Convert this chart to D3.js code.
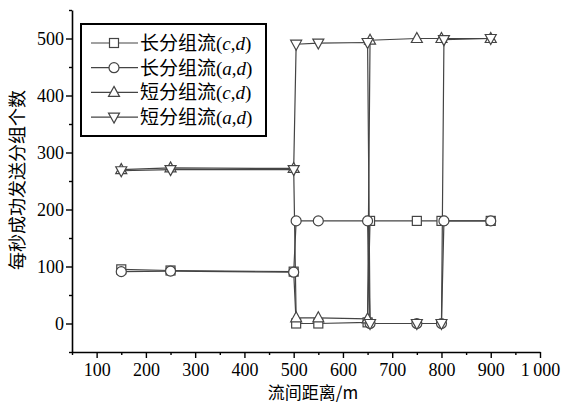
<!DOCTYPE html>
<html>
<head>
<meta charset="utf-8">
<script src="https://cdn.jsdelivr.net/npm/d3@7"></script>
<style>
  body { margin: 0; background: #fff; }
  svg { display: block; }
</style>
</head>
<body>
<div id="chart"></div>
<script>
// data
const seriesNames = ['长分组流', '长分组流', '短分组流', '短分组流'];
const seriesPairs = [['c', 'd'], ['a', 'd'], ['c', 'd'], ['a', 'd']];
const seriesSymbols = ['square', 'circle', 'up', 'down'];

const longCdX = [150, 250, 500, 505, 550, 650, 655, 750, 800, 900];
const longCdY = [95, 93, 91, 0, 0, 2, 180, 180, 180, 180];

const longAdX = [150, 250, 500, 505, 550, 650, 655, 750, 800, 805, 900];
const longAdY = [91, 92, 90, 180, 180, 180, 0, 0, 0, 180, 180];

const shortCdX = [150, 250, 500, 505, 550, 650, 655, 750, 800, 900];
const shortCdY = [270, 273, 272, 10, 10, 8, 497, 500, 500, 500];

const shortAdX = [150, 250, 500, 505, 550, 650, 655, 750, 800, 805, 900];
const shortAdY = [268, 270, 270, 490, 492, 493, 0, 0, 0, 498, 500];

const xTicks = [100, 200, 300, 400, 500, 600, 700, 800, 900, 1000];
const xMinor = [50, 150, 250, 350, 450, 550, 650, 750, 850, 950];
const yTicks = [0, 100, 200, 300, 400, 500];
const yMinor = [-50, 50, 150, 250, 350, 450, 550];

const xLabel = '流间距离/m';
const yLabel = '每秒成功发送分组个数';

const width = 566;
const height = 405;
const serif = '"Liberation Serif", "Times New Roman", serif';
const cjk = '"Noto Sans CJK SC", sans-serif';

const svg = d3.select('#chart')
  .append('svg')
  .attr('width', width)
  .attr('height', height);

const x = d3.scaleLinear().domain([50, 1000]).range([72, 540]);
const y = d3.scaleLinear().domain([-50, 550]).range([352, 10]);

const fmtX = d => d >= 1000 ? '1\u2009000' : d;

// x axis
const gx = svg.append('g').attr('transform', `translate(0, ${y(-50)})`);
gx.call(d3.axisBottom(x).tickValues(xTicks).tickSize(6).tickSizeOuter(0).tickFormat(fmtX));
gx.append('g').call(d3.axisBottom(x).tickValues(xMinor).tickSize(3).tickFormat(''))
  .select('.domain').remove();
gx.selectAll('.tick text').attr('dy', '0.85em');

// y axis
const gy = svg.append('g').attr('transform', `translate(${x(50)}, 0)`);
gy.call(d3.axisLeft(y).tickValues(yTicks).tickSize(6).tickSizeOuter(0));
gy.append('g').call(d3.axisLeft(y).tickValues(yMinor).tickSize(3).tickFormat(''))
  .select('.domain').remove();
gy.selectAll('.tick text').attr('dy', '0.35em').attr('x', -8);

svg.selectAll('.tick text')
  .attr('font-family', serif)
  .attr('font-size', 18)
  .attr('fill', '#000');
svg.selectAll('.domain').attr('stroke', '#000').attr('stroke-width', 1.6);
svg.selectAll('.tick line').attr('stroke', '#000').attr('stroke-width', 1.4);

// axis titles
svg.append('text')
  .attr('x', 313)
  .attr('y', 399)
  .attr('text-anchor', 'middle')
  .attr('font-family', cjk)
  .attr('font-size', 17)
  .text(xLabel);

svg.append('text')
  .attr('transform', 'translate(24, 180) rotate(-90)')
  .attr('text-anchor', 'middle')
  .attr('font-family', cjk)
  .attr('font-size', 18)
  .text(yLabel);

// series
const series = [
  { xs: longCdX, ys: longCdY },
  { xs: longAdX, ys: longAdY },
  { xs: shortCdX, ys: shortCdY },
  { xs: shortAdX, ys: shortAdY }
].map((s, i) => ({
  points: s.xs.map((v, j) => [v, s.ys[j]]),
  symbol: seriesSymbols[i]
}));

const line = d3.line().x(d => x(d[0])).y(d => y(d[1]));
const lineColor = '#444';

function drawMarker(g, type) {
  if (type === 'square') {
    g.append('rect').attr('x', -4.5).attr('y', -4.5).attr('width', 9).attr('height', 9);
  } else if (type === 'circle') {
    g.append('circle').attr('r', 5);
  } else if (type === 'up') {
    g.append('path').attr('d', 'M0,-6L5.5,4L-5.5,4Z');
  } else {
    g.append('path').attr('d', 'M0,6L5.5,-4L-5.5,-4Z');
  }
  g.selectAll('*').attr('fill', '#fff').attr('stroke', lineColor).attr('stroke-width', 1.2);
}

series.forEach(s => {
  svg.append('path')
    .datum(s.points)
    .attr('fill', 'none')
    .attr('stroke', lineColor)
    .attr('stroke-width', 1.2)
    .attr('d', line);
});

series.forEach(s => {
  svg.selectAll(null)
    .data(s.points)
    .enter()
    .append('g')
    .attr('transform', d => `translate(${x(d[0])}, ${y(d[1])})`)
    .each(function () { drawMarker(d3.select(this), s.symbol); });
});

// legend
const legend = svg.append('g').attr('transform', 'translate(81, 24)');
legend.append('rect')
  .attr('width', 185)
  .attr('height', 112)
  .attr('fill', '#fff')
  .attr('stroke', '#000')
  .attr('stroke-width', 2);

seriesNames.forEach((name, i) => {
  const row = legend.append('g').attr('transform', `translate(0, ${19 + i * 24.7})`);
  row.append('line')
    .attr('x1', 10).attr('x2', 57)
    .attr('stroke', lineColor)
    .attr('stroke-width', 1.2);
  drawMarker(row.append('g').attr('transform', 'translate(33, 0)'), seriesSymbols[i]);
  const t = row.append('text')
    .attr('x', 59)
    .attr('dy', '0.36em')
    .attr('font-size', 19);
  t.append('tspan').attr('font-family', cjk).text(name);
  t.append('tspan').attr('font-family', serif).text('(');
  t.append('tspan').attr('font-family', serif).attr('font-style', 'italic').text(seriesPairs[i][0]);
  t.append('tspan').attr('font-family', serif).text(',');
  t.append('tspan').attr('font-family', serif).attr('font-style', 'italic').text(seriesPairs[i][1]);
  t.append('tspan').attr('font-family', serif).text(')');
});
</script>
</body>
</html>
